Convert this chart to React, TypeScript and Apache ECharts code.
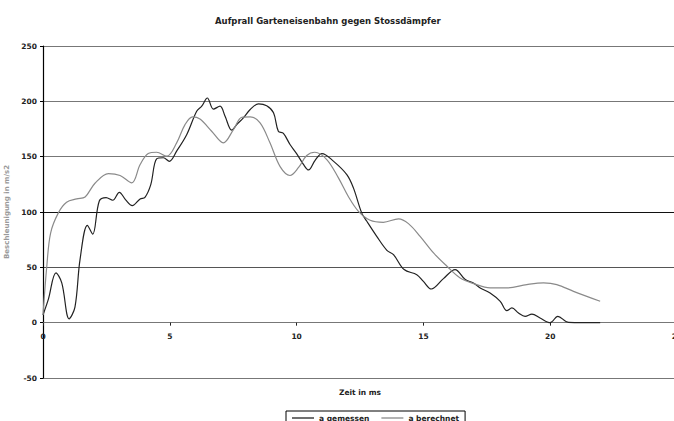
import React, { useEffect, useRef } from "react";
import * as echarts from "echarts";

const titleText = "Aufprall Garteneisenbahn gegen Stossdämpfer";
const xAxisName = "Zeit in ms";
const yAxisName = "Beschleunigung in m/s2";
const seriesNames = ["a gemessen", "a berechnet"];

const gemessenZeit = [
  0, 0.21, 0.51, 0.74, 1.03, 1.26, 1.46, 1.75, 1.96, 2.22, 2.49, 2.75, 3.01, 3.26, 3.52, 3.83, 4.02, 4.25,
  4.48, 4.75, 4.98, 5.27, 5.67, 6.06, 6.26, 6.48, 6.72, 6.98, 7.18, 7.44, 7.64, 7.9, 8.17, 8.5, 8.82, 9.09,
  9.28, 9.48, 9.74, 10.0, 10.27, 10.47, 10.73, 11.0, 11.45, 11.98, 12.24, 12.57, 12.77, 13.16, 13.56, 13.82,
  14.24, 14.74, 15.0, 15.31, 15.79, 16.25, 16.65, 16.97, 17.24, 17.63, 18.03, 18.29, 18.49, 18.75, 19.01,
  19.28, 19.6, 20.0, 20.3, 20.72, 21.97,
];
const gemessenWert = [
  7, 21, 45, 36, 3.5, 14, 57, 88, 80, 110, 113, 110.6, 117.8, 111, 105.8, 111.8, 113.3, 124.8,
  148, 149, 145.8, 155, 170, 191, 195.6, 203, 193, 195.6, 186.5, 174, 179, 185, 192.6, 197.7, 196, 189.6,
  173, 171, 161, 152.8, 143, 138, 146.7, 152.8, 146, 133.8, 121.8, 99, 91.6, 78, 65.4, 61.5,
  48, 43.4, 37.3, 30.4, 39.8, 48, 39, 35.9, 31.4, 26.8, 19.3, 10.8, 13.3, 8.7, 5.7,
  7.8, 4.2, 0, 5.7, 0.3, 0,
];

const berechnetZeit = [
  0, 0.15, 0.3, 0.6, 0.93, 1.33, 1.66, 2.05, 2.58, 3.04, 3.5, 3.83, 4.15, 4.48, 4.88, 5.27, 5.6, 5.9, 6.19,
  6.65, 7.11, 7.51, 7.84, 8.17, 8.56, 8.95, 9.35, 9.74, 10.07, 10.4, 10.72, 11.19, 11.65, 12.04, 12.44, 12.9,
  13.42, 14.02, 14.41, 14.87, 15.4, 15.93, 16.45, 16.98, 17.63, 18.29, 19.08, 19.74, 20.26, 20.92, 21.97,
];
const berechnetWert = [
  7, 51, 81, 99, 108.8, 111.8, 113.6, 126, 134.7, 133, 126.3, 142.9, 152.8, 154, 150.4, 162.5, 179, 186, 184,
  173, 162.5, 174.5, 185.6, 186, 180.5, 162.5, 141, 133, 140, 151, 154, 147.4, 130.8, 114, 100.6, 92.5,
  90.7, 93.8, 89.5, 78, 63, 51, 40.4, 35.3, 31.4, 31.4, 34.4, 35.9, 34.4, 28.3, 19.3,
];

const xTicks = { min: 0, max: 25, interval: 5 };
const yTicks = { min: -50, max: 250, interval: 50 };

export default function App() {
  const ref = useRef<HTMLDivElement>(null);
  useEffect(() => {
    if (!ref.current) return;
    const chart = echarts.init(ref.current, undefined, { renderer: "svg" });
    const font = "DejaVu Sans";
    const pairs = (xs: number[], ys: number[]) => xs.map((x, i) => [x, ys[i]]);
    chart.setOption({
      animation: false,
      backgroundColor: "#fff",
      title: {
        text: titleText,
        left: 210,
        top: 11,
        textStyle: { fontFamily: font, fontSize: 8.5, fontWeight: "bold", color: "#222" },
      },
      grid: { left: 43, right: -3, top: 46, bottom: 43, containLabel: false, outerBoundsMode: "none" },
      legend: {
        left: 286,
        top: 411,
        orient: "horizontal",
        borderColor: "#000",
        borderWidth: 1,
        borderRadius: 0,
        padding: [3, 6, 3, 6],
        icon: "rect",
        itemWidth: 22,
        itemHeight: 1.3,
        itemGap: 12,
        textStyle: { fontFamily: font, fontSize: 7.5, fontWeight: "bold", color: "#222" },
        data: seriesNames,
      },
      xAxis: {
        type: "value",
        min: xTicks.min,
        max: xTicks.max,
        interval: xTicks.interval,
        name: xAxisName,
        nameLocation: "middle",
        nameGap: 10,
        nameMoveOverlap: false,
        nameTextStyle: { fontFamily: font, fontSize: 7.5, fontWeight: "bold", color: "#222" },
        axisLine: { onZero: true, lineStyle: { color: "#777", width: 1.2 } },
        axisTick: { show: true, length: 3, lineStyle: { color: "#222" } },
        axisLabel: { fontFamily: font, fontSize: 7.5, fontWeight: "bold", color: "#222", margin: -46 },
        splitLine: { show: false },
      },
      yAxis: {
        type: "value",
        min: yTicks.min,
        max: yTicks.max,
        interval: yTicks.interval,
        name: yAxisName,
        nameLocation: "middle",
        nameGap: 30,
        nameRotate: 90,
        nameTextStyle: { fontFamily: font, fontSize: 7, fontWeight: "bold", color: "#999" },
        axisLine: { show: true, onZero: false, lineStyle: { color: "#000", width: 1.2 } },
        axisTick: { show: true, length: 3, lineStyle: { color: "#000" } },
        axisLabel: { fontFamily: font, fontSize: 7.5, fontWeight: "bold", color: "#222", margin: 6 },
        splitLine: {
          show: true,
          lineStyle: { color: ["#777", "#888", "#555", "#111", "#777", "#777", "#777"], width: 1.2 },
        },
      },
      series: [
        {
          name: seriesNames[0],
          type: "line",
          data: pairs(gemessenZeit, gemessenWert),
          smooth: 0.35,
          symbol: "none",
          lineStyle: { color: "#222", width: 1.2 },
          itemStyle: { color: "#222" },
        },
        {
          name: seriesNames[1],
          type: "line",
          data: pairs(berechnetZeit, berechnetWert),
          smooth: 0.35,
          symbol: "none",
          lineStyle: { color: "#8a8a8a", width: 1.2 },
          itemStyle: { color: "#8a8a8a" },
        },
      ],
    });
    return () => chart.dispose();
  }, []);
  return (
    <div
      ref={ref}
      style={{ position: "fixed", left: 0, top: 0, width: 674, height: 421, background: "#fff" }}
    />
  );
}
